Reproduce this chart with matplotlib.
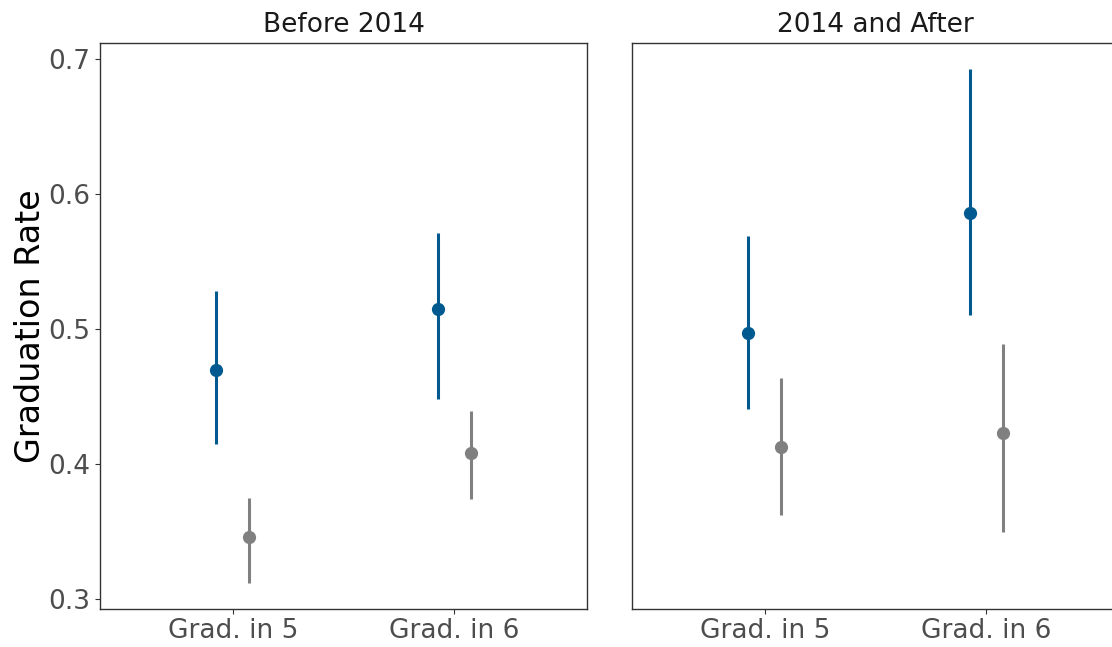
import numpy as np
import matplotlib.pyplot as plt

plt.rcParams['font.family'] = ['DejaVu Sans']

# data
categories = ['Grad. in 5', 'Grad. in 6']
panels = ['Before 2014', '2014 and After']

# blue group: estimate, lower, upper (per panel, per category)
blue_est = [[0.470, 0.515], [0.497, 0.586]]
blue_lo = [[0.415, 0.448], [0.441, 0.510]]
blue_hi = [[0.528, 0.571], [0.569, 0.692]]

# grey group
grey_est = [[0.346, 0.408], [0.413, 0.423]]
grey_lo = [[0.312, 0.374], [0.362, 0.350]]
grey_hi = [[0.375, 0.439], [0.464, 0.489]]

blue = '#005A8F'
grey = '#808080'
dodge = 0.075

fig = plt.figure(figsize=(11.12, 6.47), dpi=100)
ax1 = fig.add_axes([0.0899, 0.0587, 0.4380, 0.8753])
ax2 = fig.add_axes([0.5683, 0.0587, 0.4380, 0.8753])

x = np.arange(1, len(categories) + 1)

for i, ax in enumerate([ax1, ax2]):
    ax.vlines(x - dodge, blue_lo[i], blue_hi[i], color=blue, lw=2.2, capstyle='butt', zorder=2)
    ax.plot(x - dodge, blue_est[i], 'o', color=blue, ms=8.5, zorder=3)
    ax.vlines(x + dodge, grey_lo[i], grey_hi[i], color=grey, lw=2.2, capstyle='butt', zorder=2)
    ax.plot(x + dodge, grey_est[i], 'o', color=grey, ms=8.5, zorder=3)

    ax.set_xlim(0.4, 2.6)
    ax.set_ylim(0.2928, 0.7118)
    ax.set_xticks(x)
    ax.set_xticklabels(categories)
    ax.set_yticks([0.3, 0.4, 0.5, 0.6, 0.7])
    ax.set_yticklabels(['0.3', '0.4', '0.5', '0.6', '0.7'])
    ax.tick_params(axis='both', labelsize=19, labelcolor='#4D4D4D', color='#333333',
                   length=3.8, width=0.8)
    ax.tick_params(axis='x', pad=2.4)
    ax.tick_params(axis='y', pad=3)
    for s in ax.spines.values():
        s.set_color('#333333')
        s.set_linewidth(1.0)
    ax.set_title(panels[i], fontsize=19, color='#1A1A1A', pad=7.5)

ax2.tick_params(axis='y', left=False, labelleft=False)

fig.text(0.036, 0.4961, 'Graduation Rate', rotation=90, rotation_mode='anchor',
         ha='center', va='baseline', fontsize=24, color='black')

fig.savefig('out.png', dpi=100)
